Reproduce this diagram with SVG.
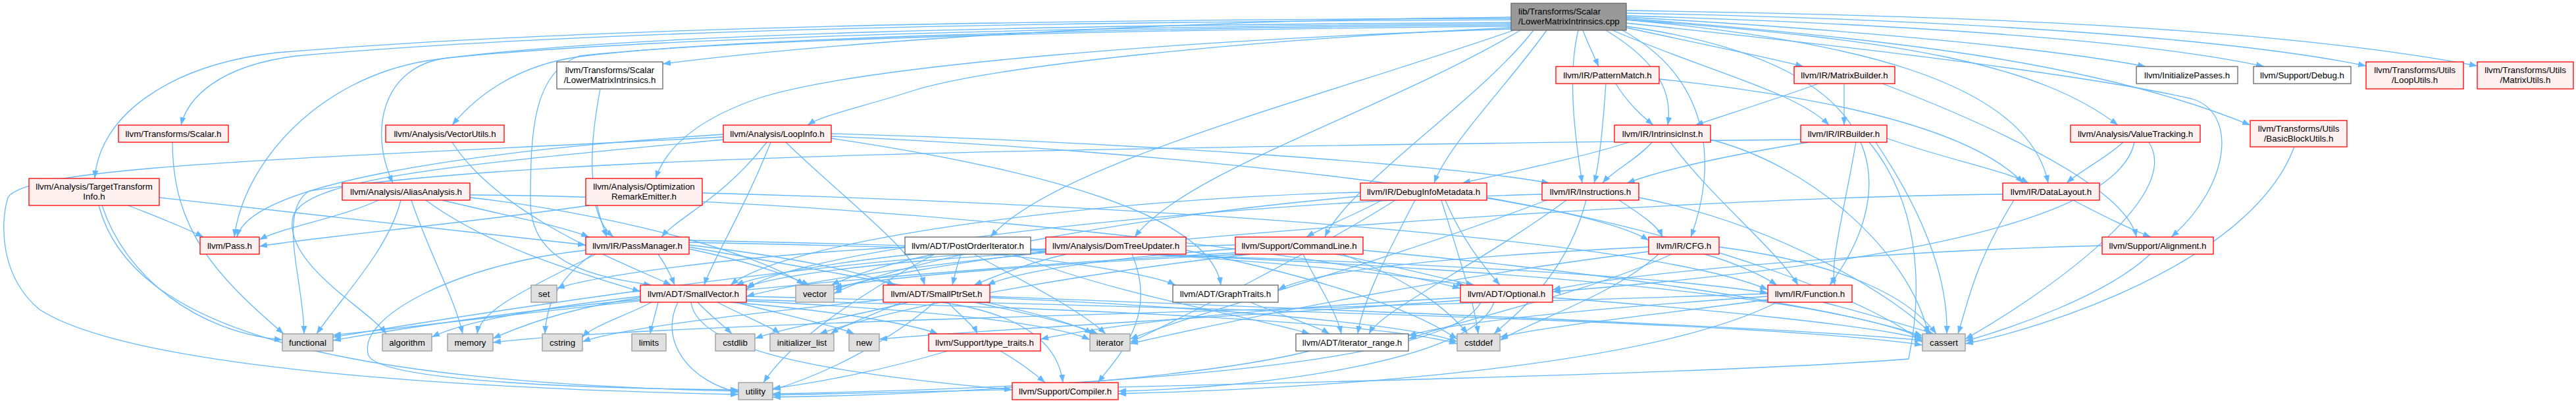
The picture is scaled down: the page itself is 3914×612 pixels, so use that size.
<svg xmlns="http://www.w3.org/2000/svg" width="3914" height="612" viewBox="0 0 3914 612">
<style>
.red{fill:#fff0f0;stroke:#ff0000;stroke-width:1.3}
.grey{fill:#e0e0e0;stroke:#999999;stroke-width:1.3}
.white{fill:#ffffff;stroke:#666666;stroke-width:1.3}
.root{fill:#999999;stroke:#666666;stroke-width:1.3}
text{font-family:"Liberation Sans",Arial,sans-serif;font-size:13.3px;text-anchor:middle;fill:#000000}
.e path{fill:none;stroke:#63b8ff;stroke-width:1.3;marker-end:url(#a)}
</style>
<defs>
<marker id="a" markerUnits="userSpaceOnUse" markerWidth="12" markerHeight="9" viewBox="0 0 12 9" refX="12" refY="4.5" orient="auto">
<path d="M0,0 L12,4.5 L0,9 z" fill="#63b8ff"/>
</marker>
</defs>
<rect width="3914" height="612" fill="#ffffff"/>
<g id="edges" class="e">
<!-- root -->
<path d="M2296,28 C1600,30 900,40 420,80 C250,100 150,180 144,271"/>
<path d="M2296,30 C1600,33 900,45 450,85 C330,100 285,150 275,190"/>
<path d="M2296,36 C1700,40 1000,55 680,88 C580,100 560,200 597,278"/>
<path d="M2296,38 C1700,42 1100,58 880,86 C780,100 720,150 687,190"/>
<path d="M2296,26 C1800,30 1300,60 1007,97"/>
<path d="M2296,44 C1800,60 1300,100 1150,150 C1050,185 1010,230 996,271"/>
<path d="M2296,42 C1900,60 1500,100 1380,140 C1300,165 1250,175 1227,190"/>
<path d="M2296,34 C1600,38 950,50 650,92 C480,120 370,250 356,360"/>
<path d="M2296,40 C1700,45 1100,60 880,85 C810,110 806,200 806,306 C806,400 900,420 990,433"/>
<path d="M2300,46 C2000,150 1600,250 1505,360"/>
<path d="M2310,46 C2100,170 1800,260 1724,360"/>
<path d="M2330,46 C2250,150 2050,280 2013,360"/>
<path d="M2350,46 C2290,130 2200,220 2179,278"/>
<path d="M2398,46 C2380,120 2395,220 2404,278"/>
<path d="M2405,46 C2412,65 2420,80 2429,101"/>
<path d="M2440,46 C2530,100 2540,150 2534,190"/>
<path d="M2465,46 C2600,120 2610,250 2569,360"/>
<path d="M2471,40 C2900,100 2880,300 2780,433"/>
<path d="M2450,46 C2600,110 2730,140 2779,190"/>
<path d="M2471,42 C2600,70 2700,90 2740,101"/>
<path d="M2471,30 C2800,60 3080,120 3112,278"/>
<path d="M2471,30 C2900,60 3100,100 3218,190"/>
<path d="M2471,28 C2900,60 3200,100 3419,190"/>
<path d="M2471,26 C2900,50 3150,80 3260,101"/>
<path d="M2471,24 C3000,40 3300,70 3440,101"/>
<path d="M2471,20 C3000,30 3400,60 3595,100"/>
<path d="M2471,16 C3100,25 3500,50 3764,100"/>
<path d="M2471,35 C2900,80 3200,120 3330,150 C3400,170 3390,280 3299,360"/>
<!-- lmih -->
<path d="M912,135 C890,250 900,300 922,360"/>
<!-- scalar -->
<path d="M262,216 C262,350 330,420 431,507"/>
<!-- tti -->
<path d="M195,312 C240,330 280,345 309,360"/>
<path d="M155,312 C190,420 300,505 429,516"/>
<path d="M150,312 C200,500 500,580 1122,594"/>
<path d="M242,300 C500,330 700,350 890,372"/>
<!-- aa -->
<path d="M575,304 C520,330 430,345 394,364"/>
<path d="M609,304 C590,380 520,450 481,507"/>
<path d="M625,304 C650,380 690,450 703,507"/>
<path d="M647,304 C750,380 900,420 973,443"/>
<path d="M672,304 C780,330 860,345 895,360"/>
<path d="M714,300 C900,320 1150,380 1222,433"/>
<path d="M714,296 C1300,300 2000,380 2219,438"/>
<!-- ore -->
<path d="M895,312 C700,340 480,360 394,374"/>
<path d="M905,312 C910,330 915,345 932,360"/>
<path d="M1067,293 C1700,310 2500,360 2686,440"/>
<!-- loopinfo -->
<path d="M1099,204 C700,230 380,280 360,360"/>
<path d="M1099,208 C500,240 40,250 12,300 C0,340 0,420 60,470 C200,560 700,590 1122,599"/>
<path d="M1099,212 C700,250 460,270 445,330 C430,400 560,470 587,507"/>
<path d="M1171,216 C1130,320 1080,400 1070,433"/>
<path d="M1194,216 C1280,300 1390,380 1405,433"/>
<path d="M1165,216 C1100,300 1030,330 1005,360"/>
<path d="M1263,210 C1600,260 1840,330 1855,433"/>
<path d="M1263,203 C1700,215 2200,250 2354,278"/>
<path d="M1263,207 C1800,230 2400,300 2505,365"/>
<!-- vecutils -->
<path d="M687,216 C760,330 950,400 1020,433"/>
<!-- patternmatch -->
<path d="M2440,127 C2435,200 2430,250 2422,278"/>
<path d="M2455,127 C2475,160 2500,180 2512,190"/>
<path d="M2521,120 C2800,150 3000,200 3074,278"/>
<!-- matrixbuilder -->
<path d="M2763,127 C2700,150 2620,175 2576,190"/>
<path d="M2802,127 L2802,190"/>
<path d="M2860,127 C3000,180 3230,280 3246,360"/>
<!-- intrinsic -->
<path d="M2475,216 C2400,240 2300,260 2222,278"/>
<path d="M2510,216 C2490,240 2450,260 2435,278"/>
<path d="M2538,216 C2600,300 2700,380 2732,433"/>
<path d="M2599,212 C2750,250 2900,380 2930,507"/>
<!-- irbuilder -->
<path d="M2748,216 C2600,240 2520,260 2472,278"/>
<path d="M2736,212 C1500,225 800,240 470,290 C420,320 462,430 462,507"/>
<path d="M2820,216 C2800,330 2780,400 2788,433"/>
<path d="M2840,216 C2950,350 2900,540 2900,545 C2600,570 1600,590 1174,600"/>
<path d="M2867,210 C2950,240 3050,260 3082,278"/>
<path d="M2850,216 C2920,320 2960,420 2958,507"/>
<!-- valuetracking -->
<path d="M3226,216 C3200,240 3160,260 3140,278"/>
<path d="M3243,216 C3220,330 2900,400 2359,443"/>
<path d="M3265,216 C3320,300 3100,450 2986,515"/>
<!-- bbutils -->
<path d="M3486,223 C3420,400 3100,500 2986,522"/>
<!-- dim -->
<path d="M2067,292 C1700,300 1200,360 1110,433"/>
<path d="M2100,304 C2050,330 2010,345 1985,360"/>
<path d="M2196,304 C2220,360 2250,400 2279,433"/>
<path d="M2150,304 C2100,400 2070,460 2063,507"/>
<path d="M2259,300 C2600,360 2850,460 2921,520"/>
<path d="M2190,304 C2220,400 2240,460 2246,507"/>
<path d="M2120,304 C2000,380 1800,480 1717,520"/>
<path d="M2067,298 C1700,330 1350,400 1267,446"/>
<!-- instructions -->
<path d="M2460,304 C2500,330 2520,345 2526,360"/>
<path d="M2343,295 C1800,310 1200,380 1134,440"/>
<path d="M2380,304 C2250,400 2100,470 2080,507"/>
<path d="M2490,300 C2700,340 2880,450 2934,507"/>
<path d="M2410,304 C2380,420 2300,480 2270,507"/>
<path d="M2350,304 C2100,400 1800,480 1717,515"/>
<!-- datalayout -->
<path d="M3043,295 C2500,300 1400,380 1134,450"/>
<path d="M3150,304 C3200,330 3230,345 3268,360"/>
<path d="M3060,304 C3000,400 2990,460 2975,507"/>
<!-- passmanager -->
<path d="M1047,372 C1200,390 1300,410 1360,433"/>
<path d="M1000,386 C1010,400 1020,420 1025,433"/>
<path d="M1047,368 C1600,380 2400,400 2686,445"/>
<path d="M900,386 C840,430 830,470 828,507"/>
<path d="M905,386 C800,440 730,470 725,507"/>
<path d="M890,380 C700,400 540,480 560,540 C580,580 900,590 1122,592"/>
<path d="M1047,378 C1150,400 1200,420 1230,433"/>
<path d="M1047,375 C1300,420 1600,470 1660,507"/>
<path d="M1047,365 C1800,380 2700,420 2921,513"/>
<!-- postorderiterator -->
<path d="M1375,375 C1100,390 900,420 846,438"/>
<path d="M1390,386 C1250,400 1150,420 1118,433"/>
<path d="M1420,386 C1350,400 1290,420 1263,433"/>
<path d="M1460,386 C1455,400 1450,420 1447,433"/>
<path d="M1510,386 C1650,400 1760,420 1786,433"/>
<path d="M1566,378 C1900,390 2150,420 2225,433"/>
<path d="M1540,386 C1700,450 1900,480 1990,507"/>
<path d="M1480,386 C1560,430 1640,470 1680,507"/>
<path d="M1420,386 C1300,450 1200,520 1160,581"/>
<!-- domtreeupdater -->
<path d="M1620,386 C1560,400 1510,420 1480,433"/>
<path d="M1720,386 C1760,480 1700,540 1668,581"/>
<path d="M1589,378 C1200,400 700,480 506,512"/>
<path d="M1600,380 C1450,400 1320,420 1267,440"/>
<path d="M1802,380 C2000,420 2150,470 2214,515"/>
<!-- commandline -->
<path d="M2030,386 C2100,400 2180,420 2240,433"/>
<path d="M1877,378 C1700,390 1550,410 1500,433"/>
<path d="M1877,372 C1500,380 1200,410 1134,436"/>
<path d="M1980,386 C2000,430 2030,470 2038,507"/>
<path d="M2071,380 C2500,420 2800,470 2921,510"/>
<path d="M2040,386 C2150,430 2200,470 2230,507"/>
<path d="M1877,384 C1200,420 700,490 506,509"/>
<path d="M1900,386 C1600,420 1350,470 1245,507"/>
<path d="M1890,386 C1600,400 1350,420 1267,436"/>
<!-- cfg -->
<path d="M2505,375 C2200,390 2000,410 1942,440"/>
<path d="M2540,386 C2400,450 2200,490 2140,515"/>
<path d="M2590,386 C2640,400 2680,420 2700,433"/>
<path d="M2612,375 C2800,400 2900,450 2942,507"/>
<path d="M2520,386 C2450,450 2320,490 2279,517"/>
<path d="M2505,382 C2200,420 1900,480 1717,522"/>
<!-- alignment -->
<path d="M3194,373 C2900,380 2500,410 2359,440"/>
<path d="M3267,386 C3200,450 3050,500 2986,518"/>
<!-- smallvector -->
<path d="M1050,459 C1060,540 1300,570 1538,592"/>
<path d="M1110,459 C1250,470 1380,490 1425,507"/>
<path d="M973,450 C800,470 700,490 656,512"/>
<path d="M1134,450 C1900,470 2700,490 2921,524"/>
<path d="M1134,455 C1700,470 2100,490 2214,522"/>
<path d="M1060,459 C1080,480 1100,495 1112,507"/>
<path d="M990,459 C950,480 900,495 885,512"/>
<path d="M973,455 C800,470 600,500 506,517"/>
<path d="M1090,459 C1130,480 1170,495 1185,507"/>
<path d="M1134,457 C1400,470 1600,490 1656,516"/>
<path d="M1000,459 C995,480 990,495 988,507"/>
<path d="M973,452 C850,470 780,500 749,514"/>
<path d="M1110,457 C1200,480 1270,495 1298,507"/>
<path d="M1030,459 C1000,520 1050,580 1122,596"/>
<!-- smallptrset -->
<path d="M1430,459 C1580,480 1610,540 1615,581"/>
<path d="M1440,459 C1460,480 1480,495 1485,507"/>
<path d="M1504,450 C2000,470 2700,495 2921,517"/>
<path d="M1504,452 C1900,470 2150,495 2214,519"/>
<path d="M1380,459 C1300,480 1200,495 1147,514"/>
<path d="M1342,455 C1200,470 950,495 885,519"/>
<path d="M1370,459 C1320,480 1280,495 1262,507"/>
<path d="M1480,459 C1580,480 1640,495 1668,507"/>
<path d="M1420,459 C1350,520 1250,570 1174,592"/>
<!-- graphtraits -->
<path d="M1900,459 C1950,480 2000,495 2020,507"/>
<!-- optional -->
<path d="M2270,459 C2240,550 1900,590 1699,594"/>
<path d="M2219,452 C1900,470 1700,490 1581,515"/>
<path d="M2359,452 C2600,470 2850,495 2921,515"/>
<path d="M2219,456 C1900,480 1500,500 1336,515"/>
<path d="M2250,459 C2200,560 1600,590 1174,598"/>
<!-- function -->
<path d="M2686,450 C2400,470 2200,490 2140,510"/>
<path d="M2700,459 C2500,560 2000,590 1699,598"/>
<path d="M2770,459 C2850,480 2900,495 2938,507"/>
<path d="M2686,455 C2500,480 2350,495 2279,512"/>
<path d="M2686,446 C2000,470 1000,490 749,520"/>
<!-- type_traits.h -->
<path d="M1520,533 C1550,550 1575,570 1588,581"/>
<path d="M1440,533 C1350,560 1250,580 1174,590"/>
<!-- iterator_range -->
<path d="M1990,533 C1800,580 1400,600 1174,603"/>
</g>
<g id="n_root"><rect class="root" x="2296" y="5" width="175" height="41"/><text x="2307" y="22" style="text-anchor:start">lib/Transforms/Scalar</text><text x="2307" y="37" style="text-anchor:start">/LowerMatrixIntrinsics.cpp</text></g>
<g id="n_lmih"><rect class="white" x="846" y="94" width="161" height="41"/><text x="926.5" y="111">llvm/Transforms/Scalar</text><text x="926.5" y="126">/LowerMatrixIntrinsics.h</text></g>
<g id="n_pattern"><rect class="red" x="2364" y="101" width="157" height="26"/><text x="2442.5" y="118.5">llvm/IR/PatternMatch.h</text></g>
<g id="n_matrixb"><rect class="red" x="2726" y="101" width="153" height="26"/><text x="2802.5" y="118.5">llvm/IR/MatrixBuilder.h</text></g>
<g id="n_initp"><rect class="white" x="3246" y="101" width="154" height="26"/><text x="3323" y="118.5">llvm/InitializePasses.h</text></g>
<g id="n_debug"><rect class="white" x="3424" y="101" width="148" height="26"/><text x="3498" y="118.5">llvm/Support/Debug.h</text></g>
<g id="n_looputils"><rect class="red" x="3595" y="94" width="148" height="41"/><text x="3669" y="111">llvm/Transforms/Utils</text><text x="3669" y="126">/LoopUtils.h</text></g>
<g id="n_matrixutils"><rect class="red" x="3764" y="94" width="146" height="41"/><text x="3837" y="111">llvm/Transforms/Utils</text><text x="3837" y="126">/MatrixUtils.h</text></g>
<g id="n_scalar"><rect class="red" x="180" y="190" width="167" height="26"/><text x="263.5" y="207.5">llvm/Transforms/Scalar.h</text></g>
<g id="n_vecutils"><rect class="red" x="586" y="190" width="180" height="26"/><text x="676" y="207.5">llvm/Analysis/VectorUtils.h</text></g>
<g id="n_loopinfo"><rect class="red" x="1099" y="190" width="164" height="26"/><text x="1181" y="207.5">llvm/Analysis/LoopInfo.h</text></g>
<g id="n_intrinsic"><rect class="red" x="2453" y="190" width="146" height="26"/><text x="2526" y="207.5">llvm/IR/IntrinsicInst.h</text></g>
<g id="n_irbuilder"><rect class="red" x="2736" y="190" width="131" height="26"/><text x="2801.5" y="207.5">llvm/IR/IRBuilder.h</text></g>
<g id="n_valuetrack"><rect class="red" x="3146" y="190" width="197" height="26"/><text x="3244.5" y="207.5">llvm/Analysis/ValueTracking.h</text></g>
<g id="n_bbutils"><rect class="red" x="3419" y="183" width="147" height="40"/><text x="3492.5" y="199.5">llvm/Transforms/Utils</text><text x="3492.5" y="214.5">/BasicBlockUtils.h</text></g>
<g id="n_tti"><rect class="red" x="44" y="271" width="198" height="41"/><text x="143" y="288">llvm/Analysis/TargetTransform</text><text x="143" y="303">Info.h</text></g>
<g id="n_aa"><rect class="red" x="520" y="278" width="194" height="26"/><text x="617" y="295.5">llvm/Analysis/AliasAnalysis.h</text></g>
<g id="n_ore"><rect class="red" x="890" y="271" width="177" height="41"/><text x="978.5" y="288">llvm/Analysis/Optimization</text><text x="978.5" y="303">RemarkEmitter.h</text></g>
<g id="n_dim"><rect class="red" x="2067" y="278" width="192" height="26"/><text x="2163" y="295.5">llvm/IR/DebugInfoMetadata.h</text></g>
<g id="n_instr"><rect class="red" x="2343" y="278" width="147" height="26"/><text x="2416.5" y="295.5">llvm/IR/Instructions.h</text></g>
<g id="n_datalayout"><rect class="red" x="3043" y="278" width="147" height="26"/><text x="3116.5" y="295.5">llvm/IR/DataLayout.h</text></g>
<g id="n_pass"><rect class="red" x="304" y="360" width="90" height="26"/><text x="349" y="377.5">llvm/Pass.h</text></g>
<g id="n_passmgr"><rect class="red" x="890" y="360" width="157" height="26"/><text x="968.5" y="377.5">llvm/IR/PassManager.h</text></g>
<g id="n_poi"><rect class="white" x="1375" y="360" width="191" height="26"/><text x="1470.5" y="377.5">llvm/ADT/PostOrderIterator.h</text></g>
<g id="n_dtu"><rect class="red" x="1589" y="360" width="213" height="26"/><text x="1695.5" y="377.5">llvm/Analysis/DomTreeUpdater.h</text></g>
<g id="n_cl"><rect class="red" x="1877" y="360" width="194" height="26"/><text x="1974" y="377.5">llvm/Support/CommandLine.h</text></g>
<g id="n_cfg"><rect class="red" x="2505" y="360" width="107" height="26"/><text x="2558.5" y="377.5">llvm/IR/CFG.h</text></g>
<g id="n_align"><rect class="red" x="3194" y="360" width="169" height="26"/><text x="3278.5" y="377.5">llvm/Support/Alignment.h</text></g>
<g id="n_set"><rect class="grey" x="807" y="433" width="39" height="26"/><text x="826.5" y="450.5">set</text></g>
<g id="n_smallvec"><rect class="red" x="973" y="433" width="161" height="26"/><text x="1053.5" y="450.5">llvm/ADT/SmallVector.h</text></g>
<g id="n_vector"><rect class="grey" x="1209" y="433" width="58" height="26"/><text x="1238" y="450.5">vector</text></g>
<g id="n_smallptr"><rect class="red" x="1342" y="433" width="162" height="26"/><text x="1423" y="450.5">llvm/ADT/SmallPtrSet.h</text></g>
<g id="n_graphtr"><rect class="white" x="1782" y="433" width="160" height="26"/><text x="1862" y="450.5">llvm/ADT/GraphTraits.h</text></g>
<g id="n_optional"><rect class="red" x="2219" y="433" width="140" height="26"/><text x="2289" y="450.5">llvm/ADT/Optional.h</text></g>
<g id="n_function"><rect class="red" x="2686" y="433" width="128" height="26"/><text x="2750" y="450.5">llvm/IR/Function.h</text></g>
<g id="n_functional"><rect class="grey" x="429" y="507" width="77" height="26"/><text x="467.5" y="524.5">functional</text></g>
<g id="n_algorithm"><rect class="grey" x="581" y="507" width="75" height="26"/><text x="618.5" y="524.5">algorithm</text></g>
<g id="n_memory"><rect class="grey" x="680" y="507" width="69" height="26"/><text x="714.5" y="524.5">memory</text></g>
<g id="n_cstring"><rect class="grey" x="824" y="507" width="61" height="26"/><text x="854.5" y="524.5">cstring</text></g>
<g id="n_limits"><rect class="grey" x="960" y="507" width="52" height="26"/><text x="986" y="524.5">limits</text></g>
<g id="n_cstdlib"><rect class="grey" x="1087" y="507" width="60" height="26"/><text x="1117" y="524.5">cstdlib</text></g>
<g id="n_initlist"><rect class="grey" x="1170" y="507" width="97" height="26"/><text x="1218.5" y="524.5">initializer_list</text></g>
<g id="n_new"><rect class="grey" x="1290" y="507" width="46" height="26"/><text x="1313" y="524.5">new</text></g>
<g id="n_typetraits"><rect class="red" x="1411" y="507" width="170" height="26"/><text x="1496" y="524.5">llvm/Support/type_traits.h</text></g>
<g id="n_iterator"><rect class="grey" x="1656" y="507" width="61" height="26"/><text x="1686.5" y="524.5">iterator</text></g>
<g id="n_iterrange"><rect class="white" x="1969" y="507" width="171" height="26"/><text x="2054.5" y="524.5">llvm/ADT/iterator_range.h</text></g>
<g id="n_cstddef"><rect class="grey" x="2214" y="507" width="65" height="26"/><text x="2246.5" y="524.5">cstddef</text></g>
<g id="n_cassert"><rect class="grey" x="2921" y="507" width="65" height="26"/><text x="2953.5" y="524.5">cassert</text></g>
<g id="n_utility"><rect class="grey" x="1122" y="581" width="52" height="26"/><text x="1148" y="598.5">utility</text></g>
<g id="n_compiler"><rect class="red" x="1538" y="581" width="161" height="26"/><text x="1618.5" y="598.5">llvm/Support/Compiler.h</text></g>
</svg>
